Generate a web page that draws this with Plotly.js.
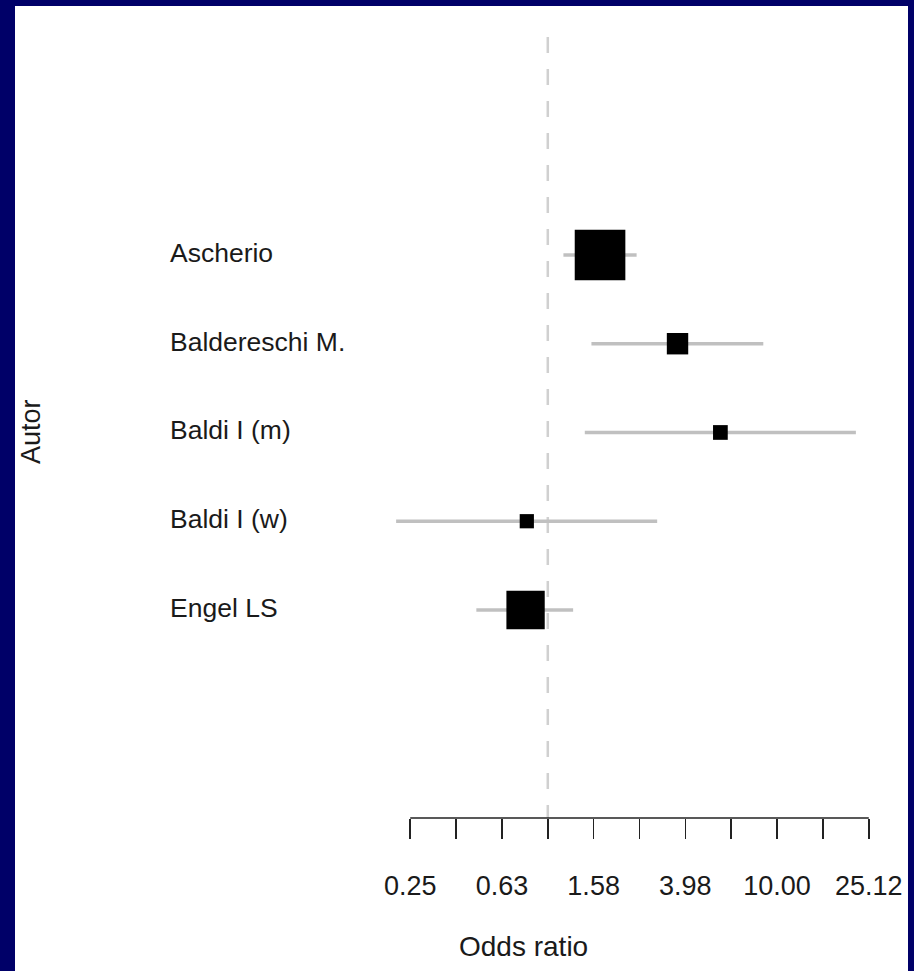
<!DOCTYPE html>
<html>
<head>
<meta charset="utf-8">
<script src="https://cdn.plot.ly/plotly-3.0.1.min.js"></script>
<style>
  html, body { margin: 0; padding: 0; background: #000068; width: 914px; height: 971px; overflow: hidden; }
  #chart { position: absolute; left: 15px; top: 6px; width: 893px; height: 965px; background: #ffffff; }
</style>
</head>
<body>
<div id="chart"></div>
<script>
// ---- data ----
var studies   = ['Ascherio', 'Baldereschi M.', 'Baldi I (m)', 'Baldi I (w)', 'Engel LS'];
var oddsRatio = [1.69, 3.68, 5.66, 0.81, 0.80];
var ciLower   = [1.17, 1.55, 1.45, 0.218, 0.488];
var ciUpper   = [2.44, 8.71, 22.07, 3.00, 1.29];
var weights   = [52.0, 9.3, 4.4, 4.1, 29.8];   // relative study weights (box area)

var tickValues = [0.25119, 0.39811, 0.63096, 1, 1.58489, 2.51189, 3.98107, 6.30957, 10, 15.84893, 25.11886];
var tickLabels = ['0.25', '', '0.63', '', '1.58', '', '3.98', '', '10.00', '', '25.12'];

// ---- build traces ----
var rows = studies.map(function (s, i) { return studies.length - i; });

var ciX = [], ciY = [];
for (var i = 0; i < studies.length; i++) {
  ciX.push(ciLower[i], ciUpper[i], null);
  ciY.push(rows[i], rows[i], null);
}

var ciTrace = {
  type: 'scatter', mode: 'lines', x: ciX, y: ciY,
  line: { color: '#c0c0c0', width: 3.5 },
  hoverinfo: 'skip', showlegend: false
};

var boxTrace = {
  type: 'scatter', mode: 'markers', x: oddsRatio, y: rows,
  marker: {
    symbol: 'square', color: '#000000', opacity: 1,
    size: weights.map(function (w) { return 7.02 * Math.sqrt(w); }),
    line: { width: 0 }
  },
  showlegend: false
};

var FONT = 'Liberation Sans, Arial, sans-serif';
var TXT = '#1a1a1a';

// plot area: left edge sits a little left of the first tick so long CIs are not clipped
var L = 372, W = 482;   // plot area left margin and width (px, inside the chart div)
function paperX(px) { return (px - L) / W; }

var annotations = studies.map(function (s, i) {
  return {
    text: s, xref: 'paper', yref: 'y', x: paperX(153), y: rows[i],
    xanchor: 'left', yanchor: 'middle', showarrow: false, yshift: 2,
    font: { family: FONT, size: 26.5, color: TXT }
  };
});
annotations.push({
  text: 'Autor', xref: 'paper', yref: 'paper', x: paperX(16), y: 0.4942,
  textangle: -90, xanchor: 'center', yanchor: 'middle', showarrow: false,
  font: { family: FONT, size: 27, color: TXT }
});
annotations.push({
  text: 'Odds ratio', xref: 'paper', yref: 'paper', x: paperX(508), y: -0.1639,
  xanchor: 'center', yanchor: 'middle', showarrow: false,
  font: { family: FONT, size: 28, color: TXT }
});

var layout = {
  width: 893, height: 965,
  margin: { l: L, r: 893 - L - W, t: 31, b: 153, pad: 0 },
  paper_bgcolor: '#ffffff', plot_bgcolor: '#ffffff',
  showlegend: false,
  xaxis: {
    type: 'log', range: [-0.7013, 1.401], fixedrange: true,
    tickmode: 'array', tickvals: tickValues, ticktext: tickLabels,
    ticks: 'outside', ticklen: 20, tickwidth: 1.5, tickcolor: '#222222',
    showline: false, showgrid: false, zeroline: false,
    ticklabelstandoff: 24,
    tickfont: { family: FONT, size: 27, color: TXT }
  },
  yaxis: {
    range: [-1.344, 7.456], visible: false, fixedrange: true
  },
  shapes: [
    {
      type: 'line', xref: 'x', yref: 'paper', x0: 1, x1: 1, y0: 1, y1: 0,
      layer: 'below', line: { color: '#d0d0d0', width: 2.5, dash: '16px,16px' }
    },
    {
      // axis line drawn only between first and last tick, as in the reference
      type: 'line', xref: 'x', yref: 'paper',
      x0: tickValues[0], x1: tickValues[tickValues.length - 1], y0: 0, y1: 0,
      layer: 'above', line: { color: '#222222', width: 1.5 }
    }
  ],
  annotations: annotations
};

Plotly.newPlot('chart', [ciTrace, boxTrace], layout, { displayModeBar: false, staticPlot: true });
</script>
</body>
</html>
